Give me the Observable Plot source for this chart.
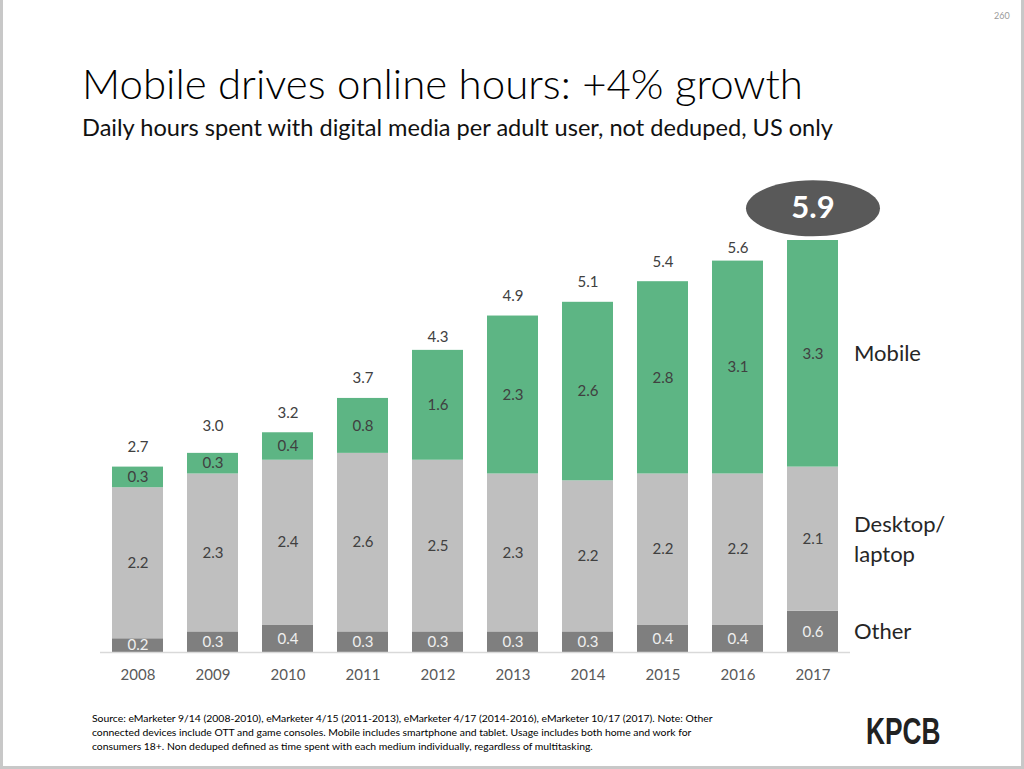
<!DOCTYPE html>
<html>
<head>
<meta charset="utf-8">
<script src="https://cdn.jsdelivr.net/npm/d3@7"></script>
<script src="https://cdn.jsdelivr.net/npm/@observablehq/plot@0.6"></script>
<style>
html, body { margin: 0; padding: 0; background: #fff; }
#slide { position: relative; width: 1024px; height: 769px; overflow: hidden; background: #fff; font-family: Lato, "Open Sans", sans-serif; }
.border { position: absolute; background: #c8c8c8; }
#pagenum { position: absolute; left: 994px; top: 10px; font-size: 9px; color: #9a9a9a; }
#title { position: absolute; left: 82px; top: 62px; font-size: 42px; line-height: 42px; font-weight: 300; color: #000; white-space: nowrap; }
#subtitle { position: absolute; left: 82px; top: 115px; font-size: 23.6px; line-height: 24px; color: #111; white-space: nowrap; }
#chart { position: absolute; left: 0; top: 150px; }
#source { position: absolute; left: 92px; top: 711px; font-size: 10.4px; line-height: 14px; color: #000; white-space: nowrap; }
#logo { position: absolute; left: 866px; top: 713px; font-family: "Liberation Sans Narrow", "Liberation Sans", sans-serif; font-weight: bold; font-size: 37px; line-height: 37px; color: #222; transform: scaleX(0.71); transform-origin: left top; }
</style>
</head>
<body>
<div id="slide">
  <div class="border" style="left:0;top:0;width:3px;height:769px"></div>
  <div class="border" style="right:0;top:0;width:3px;height:769px"></div>
  <div class="border" style="left:0;bottom:0;width:1024px;height:3px"></div>
  <div id="pagenum">260</div>
  <div id="title">Mobile drives online hours: +4% growth</div>
  <div id="subtitle">Daily hours spent with digital media per adult user, not deduped, US only</div>
  <div id="chart"></div>
  <div id="source">Source: eMarketer 9/14 (2008-2010), eMarketer 4/15 (2011-2013), eMarketer 4/17 (2014-2016), eMarketer 10/17 (2017). Note: Other<br>connected devices include OTT and game consoles. Mobile includes smartphone and tablet. Usage includes both home and work for<br>consumers 18+. Non deduped defined as time spent with each medium individually, regardless of multitasking.</div>
  <div id="logo">KPCB</div>
</div>
<script>
// ---- data ----
const years = ["2008", "2009", "2010", "2011", "2012", "2013", "2014", "2015", "2016", "2017"];
const other = [0.2, 0.3, 0.4, 0.3, 0.3, 0.3, 0.3, 0.4, 0.4, 0.6];
const desktop = [2.2, 2.3, 2.4, 2.6, 2.5, 2.3, 2.2, 2.2, 2.2, 2.1];
const mobile = [0.3, 0.3, 0.4, 0.8, 1.6, 2.3, 2.6, 2.8, 3.1, 3.3];
const totals = [2.7, 3.0, 3.2, 3.7, 4.3, 4.9, 5.1, 5.4, 5.6, 5.9];
const segments = ["Other", "Desktop", "Mobile"];
const segmentLabels = ["Other", "Desktop/\nlaptop", "Mobile"];
const segmentColors = ["#7f7f7f", "#bfbfbf", "#5db584"];
const highlightYear = "2017";

// ---- tables built from the arrays ----
const series = [other, desktop, mobile];
const rows = [];
years.forEach((year, i) => {
  segments.forEach((segment, j) => {
    rows.push({year, segment, label: segmentLabels[j], value: series[j][i]});
  });
});
const totalRows = years.map((year, i) => ({year, total: totals[i]}));
const fmt = d3.format(".1f");

// ellipse symbol for the highlighted total
const ellipse = {
  draw(ctx) {
    const rx = 67, ry = 28, k = 0.5523;
    ctx.moveTo(rx, 0);
    ctx.bezierCurveTo(rx, ry * k, rx * k, ry, 0, ry);
    ctx.bezierCurveTo(-rx * k, ry, -rx, ry * k, -rx, 0);
    ctx.bezierCurveTo(-rx, -ry * k, -rx * k, -ry, 0, -ry);
    ctx.bezierCurveTo(rx * k, -ry, rx, -ry * k, rx, 0);
    ctx.closePath();
  }
};

const chart = Plot.plot({
  width: 1024,
  height: 550,
  marginLeft: 100,
  marginRight: 174,
  marginTop: 90,
  marginBottom: 48,
  style: {fontFamily: "Lato, 'Open Sans', sans-serif", fontSize: "15px", color: "#595959", background: "transparent"},
  x: {domain: years, paddingInner: 0.32, paddingOuter: 0.16, tickSize: 0, tickPadding: 17, label: null},
  y: {domain: [0, 6], axis: null},
  color: {domain: segments, range: segmentColors},
  marks: [
    Plot.barY(rows, Plot.stackY({x: "year", y: "value", fill: "segment", order: segments})),
    Plot.ruleY([0], {stroke: "#d9d9d9", strokeWidth: 1.5}),
    // values inside the bars
    Plot.text(rows, Plot.stackY({x: "year", y: "value", z: "segment", order: segments,
      text: d => d.segment === "Other" ? null : fmt(d.value), fill: "#404040", fontSize: 15})),
    Plot.text(rows, Plot.stackY({x: "year", y: "value", z: "segment", order: segments,
      text: d => d.segment === "Other" ? fmt(d.value) : null, fill: "#efefef", fontSize: 15})),
    // totals above bars
    Plot.text(totalRows.filter(d => d.year !== highlightYear), {x: "year", y: "total", text: d => fmt(d.total), dy: -20, fill: "#404040", fontSize: 15}),
    // highlighted total
    Plot.dot(totalRows.filter(d => d.year === highlightYear), {x: "year", y: "total", symbol: ellipse, fill: "#595959", stroke: null, dy: -39}),
    Plot.text(totalRows.filter(d => d.year === highlightYear), {x: "year", y: "total", text: d => fmt(d.total), dy: -39, fill: "#fff", fontSize: 31, fontWeight: "bold"}),
    // series labels to the right of the last bar
    Plot.text(rows.filter(d => d.year === highlightYear), Plot.stackY({x: "year", y: "value", z: "segment", order: segments,
      text: "label", dx: 41, dy: -2, textAnchor: "start", fill: "#262626", fontSize: 22, lineHeight: 1.36}))
  ]
});
document.getElementById("chart").appendChild(chart);
</script>
</body>
</html>
